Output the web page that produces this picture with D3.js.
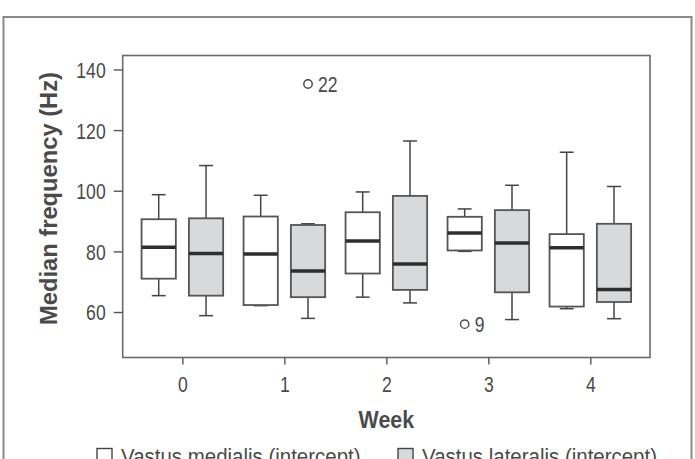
<!DOCTYPE html>
<html>
<head>
<meta charset="utf-8">
<script src="https://cdn.jsdelivr.net/npm/d3@7"></script>
<style>
  html, body { margin: 0; padding: 0; background: #fff; }
  svg { display: block; }
  text { font-family: "Liberation Sans", Arial, Helvetica, sans-serif; fill: #4a4a4a; }
</style>
</head>
<body>
<script>
// ---- data ----
const weeks = [0, 1, 2, 3, 4];
const yTicks = [60, 80, 100, 120, 140];
const seriesNames = ["Vastus medialis (intercept)", "Vastus lateralis (intercept)"];
const seriesFill = ["#ffffff", "#d8d9da"];
// [lower whisker, Q1, median, Q3, upper whisker] per week
const vastusMedialis = [
  [65.4, 71.0, 81.4, 90.6, 98.7],
  [62.1, 62.3, 79.1, 91.5, 98.5],
  [64.9, 72.7, 83.4, 92.9, 99.6],
  [80.0, 80.3, 86.1, 91.4, 94.0],
  [61.1, 61.8, 81.2, 85.7, 112.7]
];
const vastusLateralis = [
  [58.8, 65.4, 79.3, 90.9, 108.3],
  [57.9, 64.9, 73.5, 88.7, 89.1],
  [63.0, 67.3, 75.8, 98.3, 116.4],
  [57.5, 66.5, 82.8, 93.6, 101.8],
  [57.8, 63.3, 67.4, 89.1, 101.4]
];
const outlierWeek = [1, 3];
const outlierSeries = [1, 0];
const outlierValue = [135.2, 56.0];
const outlierLabel = ["22", "9"];

// ---- layout ----
const W = 695, H = 459;
const plot = { left: 122.7, right: 650, top: 55.5, bottom: 357.5 };

const svg = d3.select("body").append("svg").attr("width", W).attr("height", H);

function condense(sel, k) {
  sel.each(function () {
    const L = this.getComputedTextLength();
    d3.select(this).attr("textLength", L * k).attr("lengthAdjust", "spacingAndGlyphs");
  });
}

// outer frame (bottom cut off)
svg.append("path")
  .attr("d", `M3.5,${H + 5} V17 H691.5 V${H + 5}`)
  .attr("fill", "none").attr("stroke", "#8a8a8a").attr("stroke-width", 2);

const x = d3.scaleLinear().domain([-0.585, 4.585]).range([plot.left, plot.right]);
const y = d3.scaleLinear().domain([45, 144.6]).range([plot.bottom, plot.top]);

const offset = 0.232, halfW = 0.168, capHalf = 0.068;

// plot frame
svg.append("rect")
  .attr("x", plot.left).attr("y", plot.top)
  .attr("width", plot.right - plot.left).attr("height", plot.bottom - plot.top)
  .attr("fill", "none").attr("stroke", "#6a6a6a").attr("stroke-width", 1.6);

// axes
const yAxis = d3.axisLeft(y).tickValues(yTicks).tickSize(9).tickPadding(8);
const gy = svg.append("g").attr("transform", `translate(${plot.left},0)`).call(yAxis);
gy.select(".domain").remove();
gy.selectAll("line").attr("stroke", "#555").attr("stroke-width", 1.4);
gy.selectAll("text").style("font-size", "22px").attr("fill", "#4a4a4a").attr("dy", "0.36em");
condense(gy.selectAll("text"), 0.8);

const xAxis = d3.axisBottom(x).tickValues(weeks).tickFormat(d3.format("d")).tickSize(7).tickPadding(12);
const gx = svg.append("g").attr("transform", `translate(0,${plot.bottom})`).call(xAxis);
gx.select(".domain").remove();
gx.selectAll("line").attr("stroke", "#555").attr("stroke-width", 1.4);
gx.selectAll("text").style("font-size", "22px").attr("fill", "#4a4a4a");
condense(gx.selectAll("text"), 0.8);

// axis titles
const wt = svg.append("text")
  .attr("x", (plot.left + plot.right) / 2).attr("y", 427.5)
  .attr("text-anchor", "middle")
  .style("font-size", "23px").style("font-weight", "bold")
  .text("Week");
condense(wt, 0.93);

const yt = svg.append("text")
  .attr("transform", `translate(57,198.5) rotate(-90)`)
  .attr("text-anchor", "middle")
  .style("font-size", "24px").style("font-weight", "bold")
  .text("Median frequency (Hz)");
yt.attr("textLength", 253).attr("lengthAdjust", "spacingAndGlyphs");

// boxes
const allSeries = [vastusMedialis, vastusLateralis];
allSeries.forEach((stats, si) => {
  const dx = si === 0 ? -offset : offset;
  const g = svg.append("g");
  stats.forEach((s, wi) => {
    const cx = weeks[wi] + dx;
    const [lo, q1, med, q3, hi] = s;
    g.append("line").attr("x1", x(cx)).attr("x2", x(cx)).attr("y1", y(q3)).attr("y2", y(hi))
      .attr("stroke", "#444").attr("stroke-width", 1.5);
    g.append("line").attr("x1", x(cx)).attr("x2", x(cx)).attr("y1", y(q1)).attr("y2", y(lo))
      .attr("stroke", "#444").attr("stroke-width", 1.5);
    g.append("line").attr("x1", x(cx - capHalf)).attr("x2", x(cx + capHalf)).attr("y1", y(hi)).attr("y2", y(hi))
      .attr("stroke", "#444").attr("stroke-width", 1.5);
    g.append("line").attr("x1", x(cx - capHalf)).attr("x2", x(cx + capHalf)).attr("y1", y(lo)).attr("y2", y(lo))
      .attr("stroke", "#444").attr("stroke-width", 1.5);
    g.append("rect")
      .attr("x", x(cx - halfW)).attr("y", y(q3))
      .attr("width", x(cx + halfW) - x(cx - halfW)).attr("height", y(q1) - y(q3))
      .attr("fill", seriesFill[si]).attr("stroke", "#555").attr("stroke-width", 1.8);
    g.append("line").attr("x1", x(cx - halfW)).attr("x2", x(cx + halfW)).attr("y1", y(med)).attr("y2", y(med))
      .attr("stroke", "#2e2e2e").attr("stroke-width", 3.5);
  });
});

// outliers
outlierValue.forEach((v, i) => {
  const cx = weeks[outlierWeek[i]] + (outlierSeries[i] === 0 ? -offset : offset);
  svg.append("circle").attr("cx", x(cx)).attr("cy", y(v)).attr("r", 4.2)
    .attr("fill", "none").attr("stroke", "#444").attr("stroke-width", 1.4);
  const t = svg.append("text").attr("x", x(cx) + 10).attr("y", y(v) + 7.5)
    .style("font-size", "22px").text(outlierLabel[i]);
  condense(t, 0.8);
});

// legend
const legendX = [97, 398];
seriesNames.forEach((name, i) => {
  svg.append("rect").attr("x", legendX[i]).attr("y", 448.5).attr("width", 15).attr("height", 15)
    .attr("fill", seriesFill[i]).attr("stroke", "#444").attr("stroke-width", 1.4);
  const t = svg.append("text").attr("x", legendX[i] + 24).attr("y", 463.5)
    .style("font-size", "22px").text(name);
  condense(t, 0.93);
});
</script>
</body>
</html>
